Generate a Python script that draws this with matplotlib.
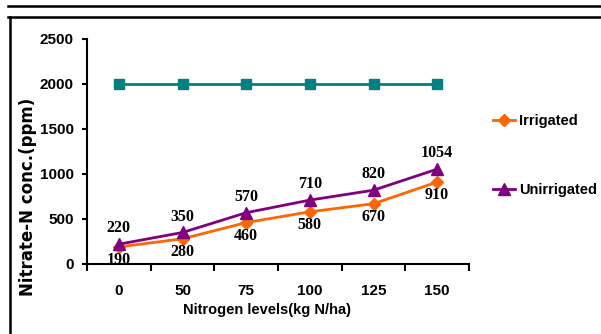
import matplotlib
matplotlib.use('Agg')
import matplotlib.pyplot as plt
from matplotlib.lines import Line2D

# data
n_levels = ['0', '50', '75', '100', '125', '150']
irrigated = [190, 280, 460, 580, 670, 910]
unirrigated = [220, 350, 570, 710, 820, 1054]
flat_series = [2000, 2000, 2000, 2000, 2000, 2000]

teal = '#008080'
orange = '#FF6600'
purple = '#800080'

sans = ['Liberation Sans', 'DejaVu Sans']
serif = ['Liberation Serif', 'DejaVu Serif']

fig = plt.figure(figsize=(6.01, 3.34), dpi=100)
ax = fig.add_axes([0.1448, 0.2096, 0.6356, 0.6737])

x = list(range(len(n_levels)))
ax.plot(x, flat_series, color=teal, lw=2, marker='s', ms=6.5, zorder=3)
h_irr, = ax.plot(x, irrigated, color=orange, lw=2, marker='D', ms=6,
                 label='Irrigated', zorder=3)
h_unirr, = ax.plot(x, unirrigated, color=purple, lw=2, marker='^', ms=8.5,
                   label='Unirrigated', zorder=4)

# point labels: unirrigated above, irrigated below
for xi, v in zip(x, unirrigated):
    ax.annotate(str(v), (xi, v), xytext=(0, 11.5), textcoords='offset points',
                ha='center', va='center', fontsize=11.5, fontweight='bold',
                family=serif)
for xi, v in zip(x, irrigated):
    ax.annotate(str(v), (xi, v), xytext=(0, -9.5), textcoords='offset points',
                ha='center', va='center', fontsize=11.5, fontweight='bold',
                family=serif)

ax.set_xlim(-0.5, len(n_levels) - 0.5)
ax.set_ylim(0, 2500)
ax.set_yticks([0, 500, 1000, 1500, 2000, 2500])
ax.set_xticks(x)
ax.set_xticklabels(n_levels)
ax.set_xticks([i - 0.5 for i in range(len(n_levels) + 1)], minor=True)
ax.tick_params(axis='x', which='major', length=0, pad=14.4)
ax.tick_params(axis='x', which='minor', length=5, width=1.5, direction='out')
ax.tick_params(axis='y', length=3.5, width=1.5, pad=6)
for lab in ax.get_xticklabels() + ax.get_yticklabels():
    lab.set_family(sans)
    lab.set_fontsize(11)
    lab.set_fontweight('bold')

for s in ['top', 'right']:
    ax.spines[s].set_visible(False)
for s in ['left', 'bottom']:
    ax.spines[s].set_linewidth(1.5)

fig.text(0.0466, 0.410, 'Nitrate-N conc.(ppm)', rotation=90, ha='center',
         va='center', fontsize=12, fontweight='bold', family='DejaVu Sans')
fig.text(0.444, 0.072, 'Nitrogen levels(kg N/ha)', ha='center', va='center',
         fontsize=10.5, fontweight='bold', family=sans)

fig.legend(handles=[h_irr, h_unirr], loc='center left',
           bbox_to_anchor=(0.8203, 0.5344), frameon=False, borderpad=0,
           borderaxespad=0, labelspacing=3.8, handlelength=1.5,
           handletextpad=0.3,
           prop={'family': sans, 'size': 10.5, 'weight': 'bold'})

# page-style frame lines
fig.add_artist(Line2D([8 / 601, 1], [1 - 6 / 334, 1 - 6 / 334],
                      color='black', lw=1.8, transform=fig.transFigure))
fig.add_artist(Line2D([8 / 601, 1], [1 - 16.5 / 334, 1 - 16.5 / 334],
                      color='black', lw=1.8, transform=fig.transFigure))
fig.add_artist(Line2D([9.5 / 601, 9.5 / 601], [0, 1 - 16.5 / 334],
                      color='black', lw=1.8, transform=fig.transFigure))

fig.savefig('out.png', dpi=100)
